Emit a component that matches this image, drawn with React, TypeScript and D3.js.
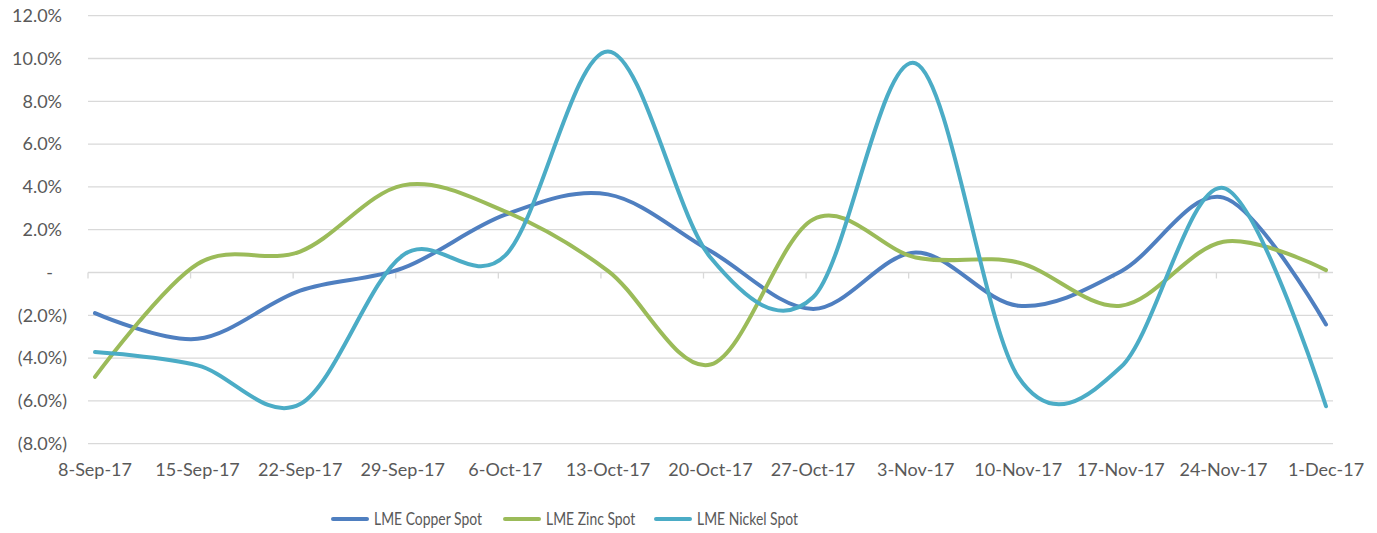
import * as d3 from 'd3';

const dates = [
  '8-Sep-17', '15-Sep-17', '22-Sep-17', '29-Sep-17', '6-Oct-17', '13-Oct-17', '20-Oct-17',
  '27-Oct-17', '3-Nov-17', '10-Nov-17', '17-Nov-17', '24-Nov-17', '1-Dec-17',
];

const copper = [-1.9, -3.1, -0.85, 0.2, 2.7, 3.65, 1.0, -1.7, 0.93, -1.55, 0.05, 3.5, -2.43];
const zinc = [-4.88, 0.4, 0.98, 4.07, 2.85, 0.08, -4.3, 2.48, 0.7, 0.47, -1.55, 1.44, 0.11];
const nickel = [-3.72, -4.34, -6.15, 0.8, 0.8, 10.33, 0.7, -1.16, 9.77, -4.88, -4.42, 3.95, -6.25];

const yTicks = [12, 10, 8, 6, 4, 2, 0, -2, -4, -6, -8];

const series = [
  { name: 'LME Copper Spot', values: copper, color: '#4F7FC0' },
  { name: 'LME Zinc Spot', values: zinc, color: '#9BBB59' },
  { name: 'LME Nickel Spot', values: nickel, color: '#4BACC6' },
];

const W = 1377;
const H = 533;
const gridLeft = 88;
const gridRight = 1333;
const FONT = 'Lato, "Open Sans", sans-serif';
const TEXT = '#595959';
const GRID = '#D9D9D9';

const fmt = (v: number) => {
  if (v === 0) return '-';
  const s = Math.abs(v).toFixed(1) + '%';
  return v < 0 ? `(${s})` : s;
};

export default function App() {
  const x = d3.scalePoint<string>().domain(dates).range([95, 1326]);
  const y = d3.scaleLinear().domain([-8, 12]).range([443.7, 15.7]);

  const line = d3.line<number>()
    .x((_, i) => x(dates[i]) as number)
    .y(d => y(d))
    .curve(d3.curveCardinal.tension(0));

  // legend item positions (centred row under the plot)
  const legendX = [333, 505, 656];

  return (
    <svg width={W} height={H} style={{ position: 'absolute', left: 0, top: 0, background: '#fff' }}>
      {/* grid */}
      {yTicks.map(t => (
        <line key={t} x1={gridLeft} x2={gridRight} y1={y(t)} y2={y(t)} stroke={GRID} strokeWidth={1.3} />
      ))}
      {/* category ticks on zero line */}
      {dates.map(d => (
        <line key={d} x1={(x(d) as number) - 7} x2={(x(d) as number) - 7} y1={y(0)} y2={y(0) + 6} stroke={GRID} strokeWidth={1.3} />
      ))}
      {/* y labels */}
      {yTicks.map(t => (
        <text
          key={t}
          x={t === 0 ? 53 : t < 0 ? 67 : 62}
          y={y(t)}
          dy="0.35em"
          textAnchor="end"
          fontFamily={FONT}
          fontSize={18}
          fill={TEXT}
        >
          {fmt(t)}
        </text>
      ))}
      {/* x labels */}
      {dates.map(d => (
        <text key={d} x={x(d)} y={476} textAnchor="middle" fontFamily={FONT} fontSize={18} fill={TEXT}>
          {d}
        </text>
      ))}
      {/* series */}
      {series.map(s => (
        <path key={s.name} d={line(s.values) ?? ''} fill="none" stroke={s.color} strokeWidth={4} strokeLinecap="round" strokeLinejoin="round" />
      ))}
      {/* legend */}
      {series.map((s, i) => (
        <g key={s.name} transform={`translate(${legendX[i]},519)`}>
          <line x1={0} x2={34} y1={0} y2={0} stroke={s.color} strokeWidth={4} strokeLinecap="round" />
          <text
            transform="translate(41,0) scale(0.82,1)"
            dy="0.35em"
            fontFamily={FONT}
            fontSize={17}
            fill={TEXT}
          >
            {s.name}
          </text>
        </g>
      ))}
    </svg>
  );
}
